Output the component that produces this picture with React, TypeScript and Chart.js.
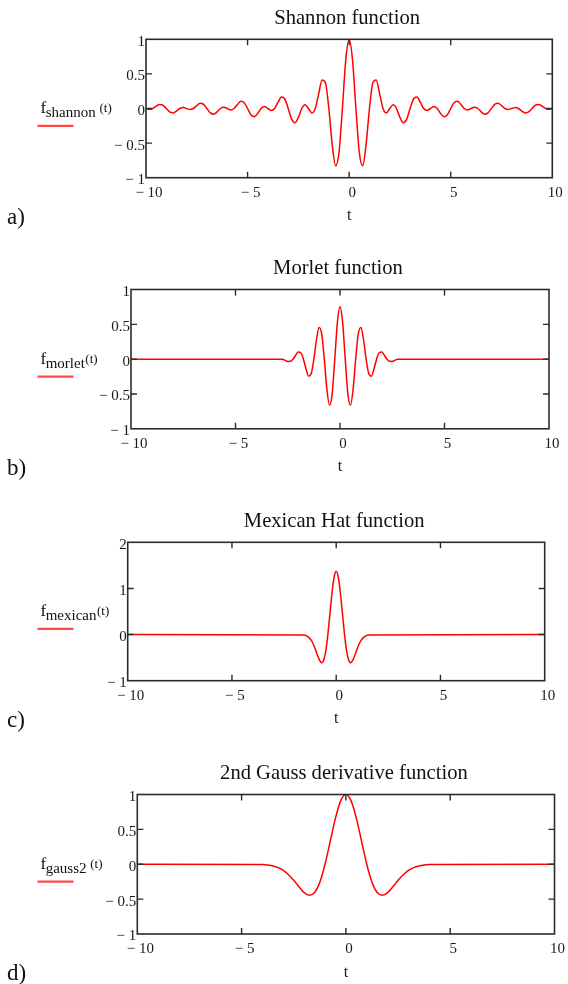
import React, { useEffect, useRef } from 'react';
import { Chart, registerables } from 'chart.js';

Chart.register(...registerables);

const FONT = "'Liberation Serif', 'Times New Roman', serif";

// ---------- data ----------
const tShannon = [
  -10, -9.833, -9.667, -9.5, -9.333, -9.167, -9, -8.833, -8.667, -8.5, -8.333, -8.167,
  -8, -7.833, -7.667, -7.5, -7.333, -7.167, -7, -6.833, -6.667, -6.5, -6.333, -6.167,
  -6, -5.833, -5.667, -5.5, -5.333, -5.167, -5, -4.833, -4.667, -4.5, -4.333, -4.167,
  -4, -3.833, -3.667, -3.5, -3.333, -3.167, -3, -2.833, -2.667, -2.5, -2.333, -2.167,
  -2, -1.833, -1.667, -1.5, -1.333, -1.167, -1, -0.833, -0.667, -0.5, -0.333, -0.167,
  0,
  0.167, 0.333, 0.5, 0.667, 0.833, 1, 1.167, 1.333, 1.5, 1.667, 1.833, 2,
  2.167, 2.333, 2.5, 2.667, 2.833, 3, 3.167, 3.333, 3.5, 3.667, 3.833, 4,
  4.167, 4.333, 4.5, 4.667, 4.833, 5, 5.167, 5.333, 5.5, 5.667, 5.833, 6,
  6.167, 6.333, 6.5, 6.667, 6.833, 7, 7.167, 7.333, 7.5, 7.667, 7.833, 8,
  8.167, 8.333, 8.5, 8.667, 8.833, 9, 9.167, 9.333, 9.5, 9.667, 9.833, 10,
];
const fShannon = [
  0, -0.0118, 0, 0.0335, 0.0591, 0.0474, 0, -0.0492, -0.0636, -0.0375, 0, 0.0143,
  0, -0.0149, 0, 0.0424, 0.0752, 0.0607, 0, -0.0636, -0.0827, -0.049, 0, 0.0189,
  0, -0.02, 0, 0.0579, 0.1034, 0.0842, 0, -0.09, -0.1181, -0.0707, 0, 0.028,
  0, -0.0304, 0, 0.0909, 0.1654, 0.1373, 0, -0.1535, -0.2067, -0.1273, 0, 0.0538,
  0, -0.0636, 0, 0.2122, 0.4135, 0.3727, 0, -0.5218, -0.827, -0.6366, 0, 0.699,
  1,
  0.699, 0, -0.6366, -0.827, -0.5218, 0, 0.3727, 0.4135, 0.2122, 0, -0.0636, 0,
  0.0538, 0, -0.1273, -0.2067, -0.1535, 0, 0.1373, 0.1654, 0.0909, 0, -0.0304, 0,
  0.028, 0, -0.0707, -0.1181, -0.09, 0, 0.0842, 0.1034, 0.0579, 0, -0.02, 0,
  0.0189, 0, -0.049, -0.0827, -0.0636, 0, 0.0607, 0.0752, 0.0424, 0, -0.0149, 0,
  0.0143, 0, -0.0375, -0.0636, -0.0492, 0, 0.0474, 0.0591, 0.0335, 0, -0.0118, 0,
];

const tMorlet = [
  -10, -2.75, -2.625, -2.5, -2.375, -2.25, -2.125, -2, -1.875, -1.75, -1.625, -1.5,
  -1.375, -1.25, -1.125, -1, -0.875, -0.75, -0.625, -0.5, -0.375, -0.25, -0.125,
  0,
  0.125, 0.25, 0.375, 0.5, 0.625, 0.75, 0.875, 1, 1.125, 1.25, 1.375, 1.5,
  1.625, 1.75, 1.875, 2, 2.125, 2.25, 2.375, 2.5, 2.625, 2.75, 10,
];
const fMorlet = [
  0, 0, -0.0169, -0.033, -0.0317, 0, 0.0556, 0.1016, 0.0916, 0, -0.1419, -0.2439,
  -0.2064, 0, 0.2821, 0.4555, 0.3622, 0, -0.4369, -0.6628, -0.495, 0, 0.527,
  0.7511,
  0.527, 0, -0.495, -0.6628, -0.4369, 0, 0.3622, 0.4555, 0.2821, 0, -0.2064, -0.2439,
  -0.1419, 0, 0.0916, 0.1016, 0.0556, 0, -0.0317, -0.033, -0.0169, 0, 0,
];

const tMexican = [
  -10, -1.6, -1.5, -1.4, -1.3, -1.2, -1.1, -1, -0.9, -0.8, -0.7, -0.6, -0.5, -0.4,
  -0.3, -0.2, -0.1, 0, 0.1, 0.2, 0.3, 0.4, 0.5, 0.6, 0.7, 0.8, 0.9, 1, 1.1, 1.2,
  1.3, 1.4, 1.5, 1.6, 10,
];
const fMexican = [
  0, -0.0069, -0.0158, -0.0337, -0.0666, -0.1218, -0.205, -0.3158, -0.443, -0.5562,
  -0.6112, -0.5561, -0.3528, 0, 0.4524, 0.9068, 1.2448, 1.37, 1.2448, 0.9068, 0.4524,
  0, -0.3528, -0.5561, -0.6112, -0.5562, -0.443, -0.3158, -0.205, -0.1218, -0.0666,
  -0.0337, -0.0158, -0.0069, 0,
];

const tGauss2 = [
  -10, -4, -3.75, -3.5, -3.25, -3, -2.75, -2.5, -2.25, -2, -1.75, -1.5, -1.25, -1,
  -0.75, -0.5, -0.25, 0, 0.25, 0.5, 0.75, 1, 1.25, 1.5, 1.75, 2, 2.25, 2.5, 2.75, 3,
  3.25, 3.5, 3.75, 4, 10,
];
const fGauss2 = [
  0, -0.005, -0.0115, -0.0246, -0.0486, -0.0889, -0.1496, -0.2305, -0.3234, -0.406,
  -0.4461, -0.4059, -0.2575, 0, 0.3302, 0.6619, 0.9086, 1, 0.9086, 0.6619, 0.3302, 0,
  -0.2575, -0.4059, -0.4461, -0.406, -0.3234, -0.2305, -0.1496, -0.0889, -0.0486,
  -0.0246, -0.0115, -0.005, 0,
];

const titles = ['Shannon function', 'Morlet function', 'Mexican Hat function', '2nd Gauss derivative function'];
const subscripts = ['shannon', 'morlet', 'mexican', 'gauss2'];
const argGaps = [true, false, false, true];
const letters = ['a)', 'b)', 'c)', 'd)'];
const xTicks = { min: -10, max: 10, step: 5 };
const yRanges = [
  { min: -1, max: 1, step: 0.5 },
  { min: -1, max: 1, step: 0.5 },
  { min: -1, max: 2, step: 1 },
  { min: -1, max: 1, step: 0.5 },
];
const seriesT = [tShannon, tMorlet, tMexican, tGauss2];
const seriesF = [fShannon, fMorlet, fMexican, fGauss2];

// ---------- layout (canvas-relative geometry) ----------
const PANELS = [
  { top: 0, h: 240, L: 146, R: 552.3, T: 39.3, B: 177.7 },
  { top: 240, h: 255, L: 131, R: 549, T: 289.5, B: 428.8 },
  { top: 495, h: 250, L: 127.7, R: 544.7, T: 542.3, B: 680.7 },
  { top: 745, h: 239, L: 137.3, R: 555.7, T: 794.5, B: 934 },
];
const X_SCALE_H = 50;

const fmt = (v: number) => (v < 0 ? '\u2212 ' + String(Math.abs(v)) : String(v));

function makeDecor(i: number) {
  return {
    id: 'decor' + i,
    afterDatasetsDraw(chart: any) {
      const { ctx, chartArea } = chart;
      const { left, right, top, bottom } = chartArea;
      const xs = chart.scales.x;
      const ys = chart.scales.y;
      ctx.save();
      ctx.strokeStyle = '#2b2b2b';
      ctx.lineWidth = 1.6;
      ctx.strokeRect(left, top, right - left, bottom - top);
      ctx.lineWidth = 1.4;
      const TL = 6;
      ctx.beginPath();
      xs.ticks.forEach((t: any) => {
        if (t.value <= xs.min || t.value >= xs.max) return;
        const px = xs.getPixelForValue(t.value);
        ctx.moveTo(px, bottom);
        ctx.lineTo(px, bottom - TL);
        ctx.moveTo(px, top);
        ctx.lineTo(px, top + TL);
      });
      ys.ticks.forEach((t: any) => {
        if (t.value <= ys.min || t.value >= ys.max) return;
        const py = ys.getPixelForValue(t.value);
        ctx.moveTo(left, py);
        ctx.lineTo(left + TL, py);
        ctx.moveTo(right, py);
        ctx.lineTo(right - TL, py);
      });
      ctx.stroke();

      // title
      ctx.fillStyle = '#111';
      ctx.font = `20.6px ${FONT}`;
      ctx.textAlign = 'center';
      ctx.textBaseline = 'middle';
      ctx.fillText(titles[i], (left + right) / 2 - 2, top - 21);

      // y label  f_sub(t)
      const cy = (top + bottom) / 2;
      ctx.textAlign = 'left';
      ctx.textBaseline = 'alphabetic';
      let xx = 40.5;
      ctx.font = `17px ${FONT}`;
      ctx.fillText('f', xx, cy + 4.8);
      xx += ctx.measureText('f').width - 0.5;
      ctx.font = `15px ${FONT}`;
      ctx.fillText(subscripts[i], xx, cy + 8.8);
      xx += ctx.measureText(subscripts[i]).width + (argGaps[i] ? 3.8 : 0.5);
      ctx.font = `13px ${FONT}`;
      ctx.fillText('(t)', xx, cy + 3.5);

      // legend line sample under the label
      ctx.strokeStyle = '#ff4a4a';
      ctx.lineWidth = 2.2;
      ctx.beginPath();
      ctx.moveTo(37.5, cy + 17.4);
      ctx.lineTo(73.5, cy + 17.4);
      ctx.stroke();

      // panel letter
      ctx.fillStyle = '#111';
      ctx.font = `23px ${FONT}`;
      ctx.fillText(letters[i], 7, bottom + 46);
      ctx.restore();
    },
  };
}

function PanelChart({ i }: { i: number }) {
  const ref = useRef<HTMLCanvasElement>(null);
  const p = PANELS[i];
  useEffect(() => {
    const T = seriesT[i];
    const F = seriesF[i];
    const data = T.map((t, k) => ({ x: t, y: F[k] }));
    const yr = yRanges[i];
    const padTop = p.T - p.top;
    const padBottom = p.top + p.h - p.B - X_SCALE_H;
    const chart = new Chart(ref.current as HTMLCanvasElement, {
      type: 'line',
      data: {
        datasets: [
          {
            data,
            borderColor: '#ff0000',
            borderWidth: 1.5,
            pointRadius: 0,
            fill: false,
            cubicInterpolationMode: 'monotone',
          } as any,
        ],
      },
      options: {
        animation: false,
        responsive: false,
        events: [],
        layout: { padding: { left: 0, right: 568 - p.R, top: padTop, bottom: Math.max(0, padBottom) } },
        plugins: { legend: { display: false }, tooltip: { enabled: false }, title: { display: false } },
        scales: {
          x: {
            type: 'linear',
            min: xTicks.min,
            max: xTicks.max,
            border: { display: false },
            grid: { display: false, drawTicks: false },
            ticks: {
              stepSize: xTicks.step,
              padding: 6,
              labelOffset: 3,
              color: '#1a1a1a',
              font: { family: FONT, size: 15 },
              callback: (v: any) => fmt(Number(v)),
              maxRotation: 0,
              autoSkip: false,
            },
            title: {
              display: true,
              text: 't',
              color: '#1a1a1a',
              font: { family: FONT, size: 16 },
              padding: { top: 0, bottom: 2 },
            },
            afterFit: (s: any) => {
              s.height = X_SCALE_H;
            },
          },
          y: {
            type: 'linear',
            min: yr.min,
            max: yr.max,
            border: { display: false },
            grid: { display: false, drawTicks: false },
            ticks: {
              stepSize: yr.step,
              padding: 1,
              labelOffset: 2.5,
              color: '#1a1a1a',
              font: { family: FONT, size: 15 },
              callback: (v: any) => fmt(Number(v)),
              autoSkip: false,
            },
            afterFit: (s: any) => {
              s.width = p.L;
            },
          },
        },
      } as any,
      plugins: [makeDecor(i)],
    });
    return () => chart.destroy();
  }, [i]);
  return (
    <canvas
      ref={ref}
      width={568}
      height={p.h}
      style={{ position: 'absolute', left: 0, top: p.top, width: 568, height: p.h, display: 'block' }}
    />
  );
}

export default function App() {
  return (
    <div style={{ position: 'absolute', left: 0, top: 0, width: 568, height: 984, background: '#fff' }}>
      {PANELS.map((_, i) => (
        <PanelChart key={i} i={i} />
      ))}
    </div>
  );
}
